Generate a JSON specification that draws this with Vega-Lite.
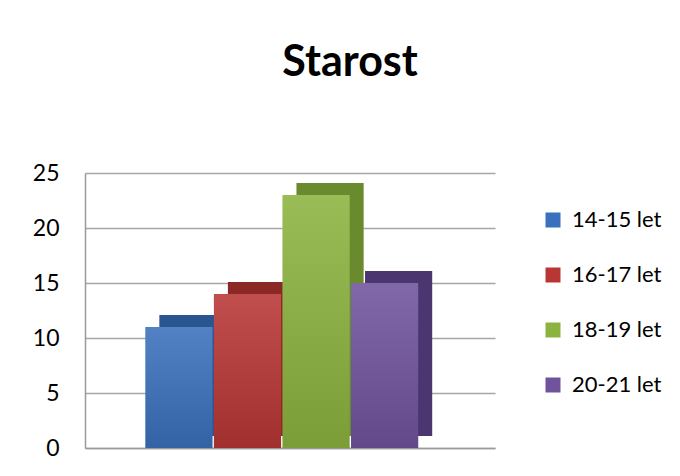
{
  "$schema": "https://vega.github.io/schema/vega-lite/v6.json",
  "autosize": {"type": "none"},
  "width": 410,
  "height": 275,
  "padding": {"left": 85, "top": 173, "right": 185, "bottom": 28},
  "background": "white",
  "title": {
    "text": "Starost",
    "font": "Lato",
    "fontSize": 43,
    "fontWeight": "bold",
    "color": "black",
    "anchor": "middle",
    "frame": "group",
    "dx": 60,
    "offset": 77
  },
  "data": {
    "values": [
      {"age": "14-15 let", "count": 11},
      {"age": "16-17 let", "count": 14},
      {"age": "18-19 let", "count": 23},
      {"age": "20-21 let", "count": 15}
    ]
  },
  "encoding": {
    "x": {
      "field": "age",
      "type": "nominal",
      "sort": null,
      "scale": {"paddingInner": 0.02, "paddingOuter": 1, "align": 0.44},
      "axis": {"title": null, "labels": false, "ticks": false, "domain": true, "domainColor": "#9a9a9a", "domainWidth": 1.5, "grid": false}
    },
    "y": {
      "field": "count",
      "type": "quantitative",
      "scale": {"domain": [0, 25]},
      "axis": {
        "title": null,
        "values": [0, 5, 10, 15, 20, 25],
        "ticks": false,
        "labelFont": "Lato",
        "labelFontSize": 23,
        "labelColor": "black",
        "labelPadding": 26,
        "domainColor": "#9a9a9a",
        "domainWidth": 1.5,
        "grid": true,
        "gridColor": "#a6a6a6",
        "gridWidth": 1.5
      }
    }
  },
  "layer": [
    {
      "mark": {"type": "bar", "xOffset": 14, "x2Offset": 14, "yOffset": -12, "y2Offset": -12},
      "encoding": {
        "fill": {
          "field": "age",
          "type": "nominal",
          "scale": {"range": ["#2b5590", "#8a2826", "#6a8a2e", "#4b3670"]},
          "legend": null
        }
      }
    },
    {
      "mark": {"type": "bar"},
      "encoding": {
        "color": {
          "field": "age",
          "type": "nominal",
          "sort": null,
          "scale": {"range": ["#3a70bc", "#b83634", "#8cb340", "#70539c"]},
          "legend": {
            "title": null,
            "orient": "none",
            "legendX": 457,
            "legendY": 36,
            "symbolType": "square",
            "symbolSize": 225,
            "symbolStrokeWidth": 0,
            "labelFont": "Lato",
            "labelFontSize": 22,
            "labelColor": "black",
            "labelOffset": 8,
            "rowPadding": 33
          }
        }
      }
    },
    {
      "mark": {
        "type": "bar",
        "color": {
          "gradient": "linear",
          "x1": 0, "y1": 0, "x2": 0, "y2": 1,
          "stops": [
            {"offset": 0, "color": "rgba(255,255,255,0.12)"},
            {"offset": 1, "color": "rgba(0,0,0,0.12)"}
          ]
        }
      }
    }
  ],
  "config": {"view": {"stroke": null}}
}
